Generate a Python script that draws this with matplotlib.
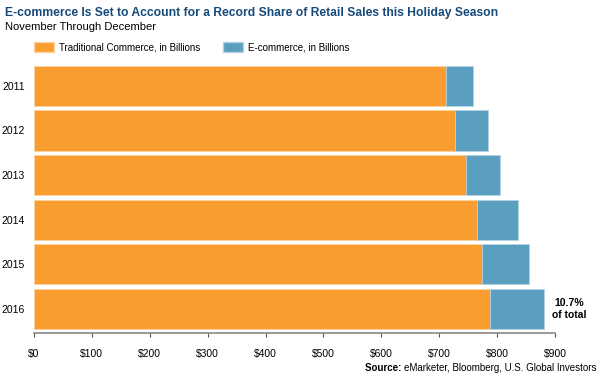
import matplotlib
matplotlib.use('Agg')
import matplotlib.pyplot as plt
from matplotlib.patches import Patch

plt.rcParams['font.family'] = ['Liberation Sans', 'DejaVu Sans']

years = ['2011', '2012', '2013', '2014', '2015', '2016']
traditional = [711, 728, 746, 765, 774, 787]
ecommerce = [47, 56, 59, 71, 81, 94]
ticks = [0, 100, 200, 300, 400, 500, 600, 700, 800, 900]
tick_labels = ['$' + str(t) for t in ticks]

orange = '#F99D31'
blue = '#5A9EC0'
title_color = '#154A7A'

fig = plt.figure(figsize=(6, 3.79), dpi=100)
# axes box in pixels: x 34..555, y 60..333
ax = fig.add_axes([34 / 600, 1 - 333 / 379, 521 / 600, 273 / 379])

pos = list(range(len(years)))
ax.barh(pos, traditional, height=0.9, color=orange, edgecolor='#FCD3A3', linewidth=0.6)
ax.barh(pos, ecommerce, left=traditional, height=0.9, color=blue, edgecolor='#B5D3E3', linewidth=0.6)

ax.set_xlim(0, 900)
ax.set_ylim(5.54, -0.58)
ax.set_yticks(pos)
ax.set_yticklabels(years, fontsize=7.5)
ax.tick_params(axis='y', length=0, pad=6.5)
ax.set_xticks(ticks)
ax.set_xticklabels(tick_labels, fontsize=7.5)
ax.tick_params(axis='x', length=3, color='#555555', pad=8.5)
for s in ['top', 'right', 'left']:
    ax.spines[s].set_visible(False)
ax.spines['bottom'].set_color('#888888')
ax.spines['bottom'].set_linewidth(1.2)

ax.text(925, 5.0, '10.7%\nof total', fontsize=7.5, fontweight='bold', ha='center', va='center',
        linespacing=1.35, clip_on=False)

fig.text(5 / 600, 1 - 13 / 379, 'E-commerce Is Set to Account for a Record Share of Retail Sales this Holiday Season',
         fontsize=8.7, fontweight='bold', color=title_color, va='center', ha='left')
fig.text(5 / 600, 1 - 27 / 379, 'November Through December', fontsize=8, va='center', ha='left')

handles = [Patch(facecolor=orange, edgecolor='#FCD3A3', label='Traditional Commerce, in Billions'),
           Patch(facecolor=blue, edgecolor='#B5D3E3', label='E-commerce, in Billions')]
fig.legend(handles=handles, loc='center left', bbox_to_anchor=(26 / 600, 1 - 47.5 / 379), ncol=2,
           frameon=False, fontsize=7, handlelength=2.1, handleheight=1.2, columnspacing=2.3,
           handletextpad=0.5, borderpad=0.3)

src = fig.text(597 / 600, 1 - 368 / 379, 'eMarketer, Bloomberg, U.S. Global Investors', fontsize=7,
               ha='right', va='center')
ax.annotate('Source: ', xy=(0, 0.5), xycoords=src, fontsize=7, fontweight='bold', ha='right', va='center')

fig.savefig('out.png', dpi=100)
